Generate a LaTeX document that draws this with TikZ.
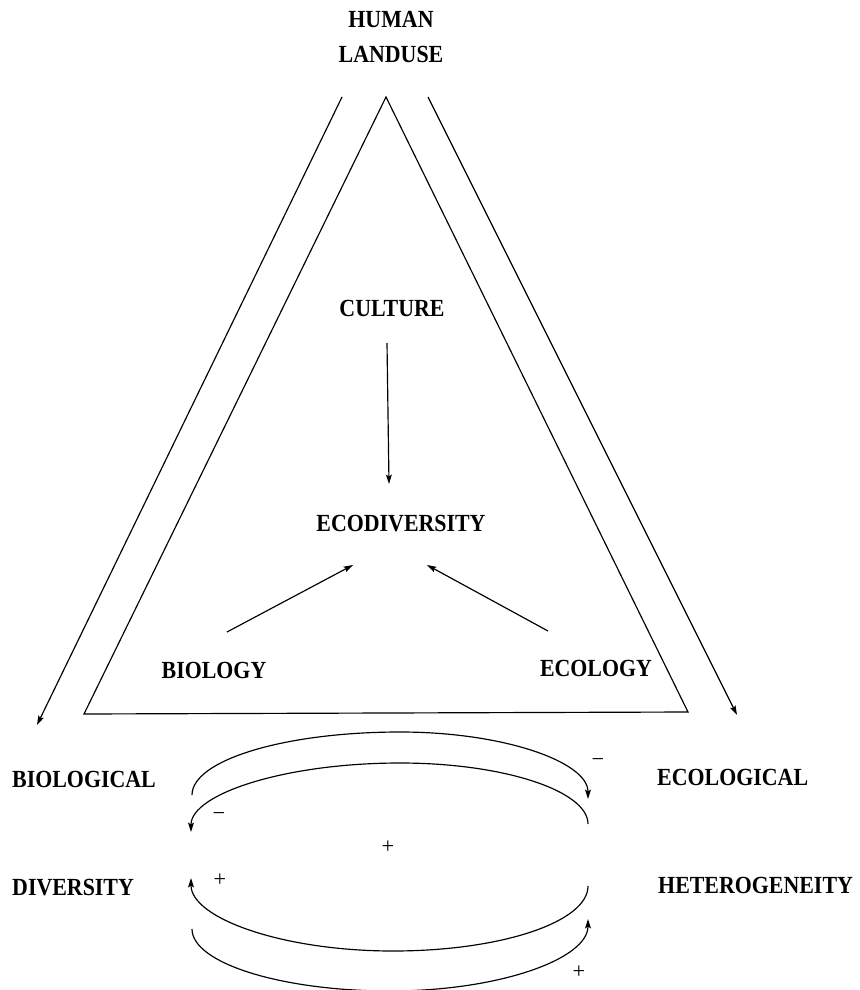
\documentclass[tikz,border=0pt]{standalone}
\usepackage{fontspec}
\usepackage{graphicx}
\setmainfont{Liberation Serif}
\newcommand\lbtext[1]{\scalebox{0.89}[1]{\bfseries #1}}
\usetikzlibrary{arrows.meta}
\begin{document}
\begin{tikzpicture}[x=0.03cm,y=-0.03cm,
  lbl/.style={font=\fontsize{21}{30}\selectfont, inner sep=0pt, align=center},
  sgn/.style={font=\fontsize{19}{20}\selectfont, inner sep=0pt},
  ln/.style={line width=1pt, line join=miter},
  arr/.style={ln, -{Stealth[length=8pt,width=5pt,inset=1.5pt]}}]
\useasboundingbox (0,0) rectangle (859,990);
% labels
\node[lbl] (human) at (391,37) {\lbtext{HUMAN}\\\lbtext{LANDUSE}};
\node[lbl] (culture) at (392,308) {\lbtext{CULTURE}};
\node[lbl] (ecod) at (401,524) {\lbtext{ECODIVERSITY}};
\node[lbl] (biology) at (214,670) {\lbtext{BIOLOGY}};
\node[lbl] (ecology) at (596,668) {\lbtext{ECOLOGY}};
\node[lbl, anchor=west] (biol) at (12,779) {\lbtext{BIOLOGICAL}};
\node[lbl, anchor=west] (divers) at (12,888) {\lbtext{DIVERSITY}};
\node[lbl, anchor=west] (ecol) at (657,777) {\lbtext{ECOLOGICAL}};
\node[lbl, anchor=west] (heter) at (658,885) {\lbtext{HETEROGENEITY}};
% triangle
\coordinate (apex) at (386,97);
\coordinate (bl) at (84,714);
\coordinate (br) at (688,712);
\draw[ln] (apex) -- (bl) -- (br) -- cycle;
% outer arrows
\coordinate (lt) at (342,97);
\coordinate (lb) at (37,725);
\coordinate (rt) at (428,97);
\coordinate (rb) at (737,715);
\draw[arr] (lt) -- (lb);
\draw[arr] (rt) -- (rb);
% inner arrows
\coordinate (c1) at (387,343);
\coordinate (c2) at (389,484);
\draw[arr] (c1) -- (c2);
\coordinate (b1) at (227,632);
\coordinate (b2) at (353,565);
\draw[arr] (b1) -- (b2);
\coordinate (e1) at (548,631);
\coordinate (e2) at (427,565);
\draw[arr] (e1) -- (e2);
% feedback loops
\coordinate (L1) at (192,795);
\coordinate (T1) at (400,732);
\coordinate (R1) at (588,799);
\draw[arr] (L1) .. controls +(0,-35) and +(-115,0) .. (T1)
  .. controls +(104,0) and +(0,-37) .. (R1);
\coordinate (R2) at (588,824);
\coordinate (T2) at (400,763);
\coordinate (L2) at (191,832);
\draw[arr] (R2) .. controls +(0,-33) and +(104,0) .. (T2)
  .. controls +(-115,0) and +(0,-38) .. (L2);
\coordinate (R3) at (588,886);
\coordinate (B3) at (393,951);
\coordinate (L3) at (191,878);
\draw[arr] (R3) .. controls +(0,36) and +(108,0) .. (B3)
  .. controls +(-111,0) and +(0,40) .. (L3);
\coordinate (L4) at (192,929);
\coordinate (B4) at (390,991);
\coordinate (R4) at (588,919);
\draw[arr] (L4) .. controls +(0,34) and +(-109,0) .. (B4)
  .. controls +(109,0) and +(0,40) .. (R4);
% signs
\node[sgn] (m1) at (598,763) {−};
\node[sgn] (m2) at (219,817) {−};
\node[sgn] (p0) at (388,847) {+};
\node[sgn] (p1) at (220,880) {+};
\node[sgn] (p2) at (579,972) {+};
\end{tikzpicture}
\end{document}
